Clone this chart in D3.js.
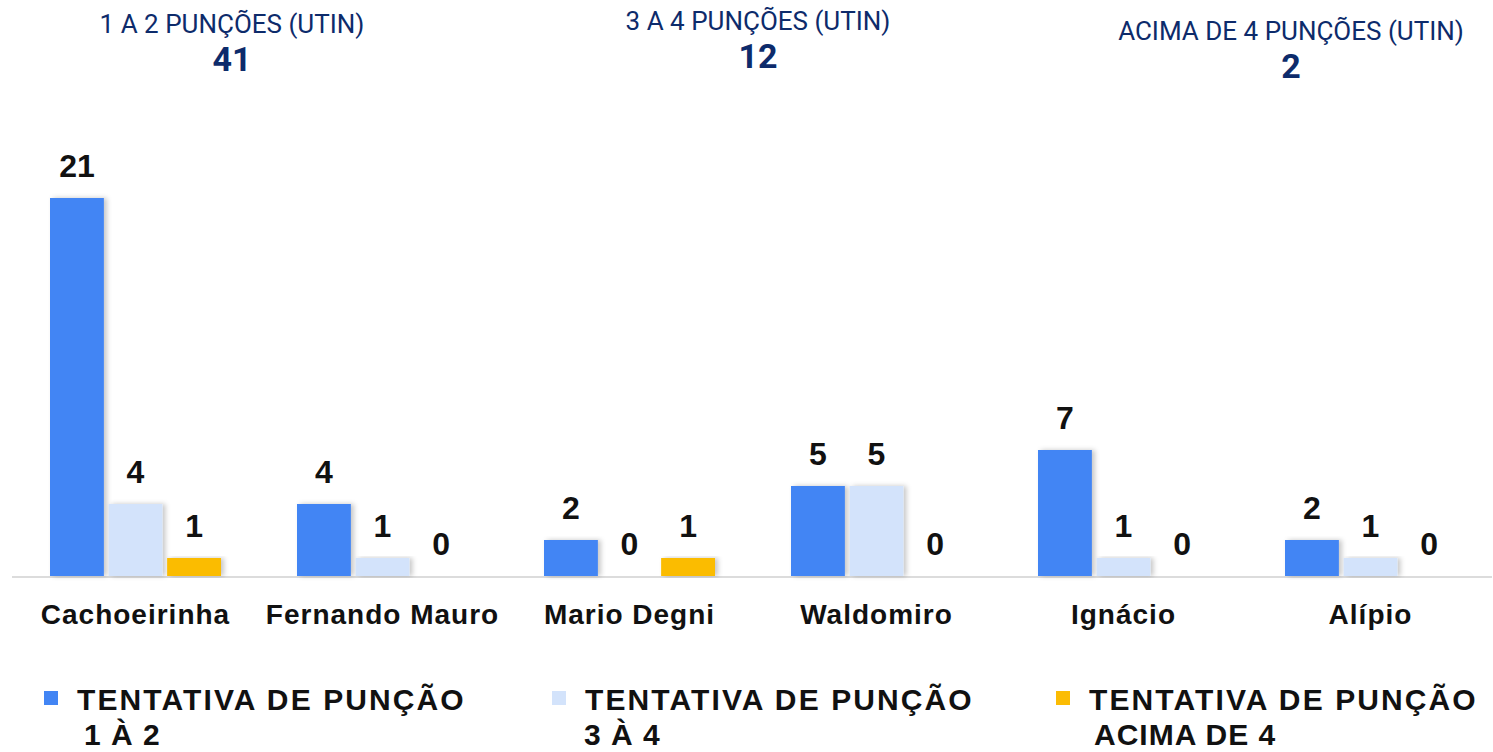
<!DOCTYPE html>
<html lang="en">
<head>
  <meta charset="UTF-8">
  <style>
    body { margin: 0; background: #fff; }
    svg { display: block; }
    .head { font-family: Roboto, "Noto Sans", sans-serif; fill: #0d2b6b; text-anchor: middle; }
    .val { font-family: "Liberation Sans", Arial, sans-serif; font-weight: bold; font-size: 32px; fill: #111; text-anchor: middle; }
    .cat { font-family: "Liberation Sans", Arial, sans-serif; font-weight: bold; font-size: 28px; letter-spacing: 1px; fill: #111; text-anchor: middle; }
    .leg { font-family: "Liberation Sans", Arial, sans-serif; font-weight: bold; font-size: 30px; letter-spacing: 2.1px; fill: #111; }
  </style>
</head>
<body>
  <script src="https://d3js.org/d3.v7.min.js"></script>
  <svg></svg>
  <script>

//data
const categories = ["Cachoeirinha", "Fernando Mauro", "Mario Degni", "Waldomiro", "Ignácio", "Alípio"];
const series = ["1 À 2", "3 À 4", "ACIMA DE 4"];
const tentativa12 = [21, 4, 2, 5, 7, 2];
const tentativa34 = [4, 1, 0, 5, 1, 1];
const tentativaAcima4 = [1, 0, 1, 0, 0, 0];
const headTitles = ["1 A 2 PUNÇÕES (UTIN)", "3 A 4 PUNÇÕES (UTIN)", "ACIMA DE 4 PUNÇÕES (UTIN)"];
const headTotals = [41, 12, 2];
const colors = ["#4285f4", "#d3e3fb", "#fbbc04"];

const w = 1493;
const h = 752;

const svg = d3.select("svg")
              .attr("width", w)
              .attr("height", h);

//soft shadow on the right side of the bars
const defs = svg.append("defs");
defs.append("filter")
    .attr("id", "shadow")
    .attr("x", "-10%").attr("y", "-10%").attr("width", "130%").attr("height", "120%")
    .append("feDropShadow")
    .attr("dx", 3).attr("dy", 0)
    .attr("stdDeviation", 2.5)
    .attr("flood-color", "#000")
    .attr("flood-opacity", 0.22);

//header totals
const headX = [232, 758, 1291];
const headY = [33, 30, 40];
headTitles.forEach((t, i) => {
  svg.append("text").attr("class", "head")
     .attr("x", headX[i]).attr("y", headY[i])
     .style("font-size", "26px")
     .text(t);
  svg.append("text").attr("class", "head")
     .attr("x", headX[i]).attr("y", headY[i] + 38)
     .style("font-size", "34px").style("font-weight", "bold")
     .text(headTotals[i]);
});

//scales
const x0 = d3.scaleBand()
            .domain(categories)
            .range([12, 12 + 6 * 247]);

const x1 = d3.scaleBand()
             .domain(d3.range(series.length))
             .range([0, 171])
             .paddingInner(0.08);

const y = d3.scaleLinear()
            .domain([0, 21])
            .range([576, 198]);

const rows = categories.map((c, i) => ({
  cat: c,
  vals: [tentativa12[i], tentativa34[i], tentativaAcima4[i]]
}));

//axis line
svg.append("line")
   .attr("x1", 12).attr("x2", 1492)
   .attr("y1", y(0) + 1).attr("y2", y(0) + 1)
   .attr("stroke", "#dcdcdc")
   .attr("stroke-width", 2);

const groups = svg.append("g")
   .selectAll("g")
   .data(rows)
   .enter()
   .append("g")
   .attr("transform", d => `translate(${x0(d.cat) + x0.bandwidth() / 2 - 85.5},0)`);

//bars (zero values draw nothing)
groups.selectAll("rect")
   .data(d => d.vals.map((v, k) => ({v, k})).filter(d => d.v > 0))
   .enter()
   .append("rect")
   .attr("x", d => x1(d.k))
   .attr("y", d => y(d.v))
   .attr("width", x1.bandwidth())
   .attr("height", d => y(0) - y(d.v))
   .attr("fill", d => colors[d.k])
   .attr("filter", "url(#shadow)");

groups.selectAll("text")
   .data(d => d.vals.map((v, k) => ({v, k})))
   .enter()
   .append("text")
   .attr("class", "val")
   .attr("x", d => x1(d.k) + x1.bandwidth() / 2)
   .attr("y", d => y(d.v) - 21)
   .text(d => d.v);

//category labels
svg.append("g")
   .selectAll("text")
   .data(categories)
   .enter()
   .append("text")
   .attr("class", "cat")
   .attr("x", d => x0(d) + x0.bandwidth() / 2)
   .attr("y", 624)
   .text(d => d);

//legend
const legX = [44, 552, 1056];
const legLine2 = [40, 32, 38];
series.forEach((s, i) => {
  svg.append("rect")
     .attr("x", legX[i]).attr("y", 691)
     .attr("width", 14).attr("height", 14)
     .attr("fill", colors[i]);
  const t = svg.append("text").attr("class", "leg")
     .attr("x", legX[i] + 33).attr("y", 710);
  t.append("tspan").text("TENTATIVA DE PUNÇÃO");
  t.append("tspan").attr("x", legX[i] + legLine2[i]).attr("dy", 35)
   .style("letter-spacing", "1px").text(s);
});

  </script>
</body>
</html>
